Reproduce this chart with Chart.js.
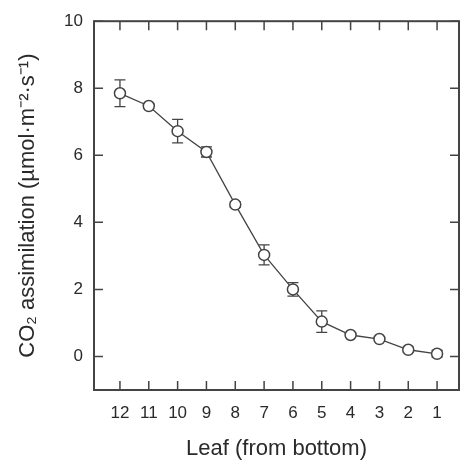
<!DOCTYPE html>
<html>
<head>
<meta charset="utf-8">
<script src="https://cdn.jsdelivr.net/npm/chart.js@4.4.1/dist/chart.umd.min.js"></script>
<style>
  html, body { margin:0; padding:0; background:#fff; }
  #wrap { width:461px; height:466px; }
</style>
</head>
<body>
<div id="wrap"><canvas id="c" width="461" height="466"></canvas></div>
<script>
const leaves = [12, 11, 10, 9, 8, 7, 6, 5, 4, 3, 2, 1];
const assim  = [7.85, 7.47, 6.72, 6.1, 4.53, 3.03, 2.0, 1.04, 0.64, 0.52, 0.2, 0.08];
const errs   = [0.4, 0.08, 0.35, 0.15, 0.08, 0.3, 0.2, 0.32, 0.06, 0.06, 0.08, 0.1];
const yTicks = [0, 2, 4, 6, 8, 10];

const ink = '#444';
const txt = '#2a2a2a';

const frameTicks = {
  id: 'frameTicks',
  afterDraw(chart){
    const {ctx, chartArea:a, scales:{x, y}} = chart;
    const len = 9;
    ctx.save();
    ctx.strokeStyle = ink;
    ctx.lineWidth = 2;
    ctx.strokeRect(a.left, a.top, a.right - a.left, a.bottom - a.top);
    ctx.lineWidth = 1.5;
    ctx.beginPath();
    x.ticks.forEach(t => {
      const px = x.getPixelForValue(t.value);
      ctx.moveTo(px, a.bottom); ctx.lineTo(px, a.bottom - len);
      ctx.moveTo(px, a.top);    ctx.lineTo(px, a.top + len);
    });
    y.ticks.forEach(t => {
      const py = y.getPixelForValue(t.value);
      ctx.moveTo(a.left, py);  ctx.lineTo(a.left + len, py);
      ctx.moveTo(a.right, py); ctx.lineTo(a.right - len, py);
    });
    ctx.stroke();
    ctx.restore();
  }
};

const errorBars = {
  id: 'errorBars',
  beforeDatasetsDraw(chart){
    const {ctx, scales:{x, y}} = chart;
    const cap = 5.5;
    ctx.save();
    ctx.strokeStyle = ink;
    ctx.lineWidth = 1.3;
    ctx.beginPath();
    leaves.forEach((l, i) => {
      const px = x.getPixelForValue(l);
      const hi = y.getPixelForValue(assim[i] + errs[i]);
      const lo = y.getPixelForValue(assim[i] - errs[i]);
      ctx.moveTo(px, hi); ctx.lineTo(px, lo);
      ctx.moveTo(px - cap, hi); ctx.lineTo(px + cap, hi);
      ctx.moveTo(px - cap, lo); ctx.lineTo(px + cap, lo);
    });
    ctx.stroke();
    ctx.restore();
  }
};

new Chart(document.getElementById('c'), {
  type: 'line',
  data: {
    datasets: [{
      data: leaves.map((l, i) => ({x: l, y: assim[i]})),
      borderColor: ink,
      borderWidth: 1.3,
      pointRadius: 5.5,
      pointBorderWidth: 1.5,
      pointBackgroundColor: '#fff',
      pointBorderColor: ink,
      tension: 0
    }]
  },
  options: {
    responsive: false,
    animation: false,
    layout: { autoPadding: false, padding: { top: 19, right: 2, left: 0, bottom: 0 } },
    plugins: { legend: { display: false }, tooltip: { enabled: false } },
    scales: {
      x: {
        type: 'linear', reverse: true, min: 0.24, max: 12.9,
        afterBuildTicks: s => { s.ticks = leaves.map(v => ({value: v})); },
        afterFit: s => { s.height = 76; s.paddingLeft = 0; s.paddingRight = 0; },
        grid: { display: false, drawTicks: false },
        border: { display: false },
        ticks: { color: txt, padding: 13, font: { family: 'Liberation Sans', size: 17 } },
        title: { display: true, text: 'Leaf (from bottom)', color: txt, padding: { top: 6 },
                 font: { family: 'Liberation Sans', size: 22 } }
      },
      y: {
        min: -1, max: 10,
        afterBuildTicks: s => { s.ticks = yTicks.map(v => ({value: v})); },
        afterFit: s => { s.width = 94; },
        grid: { display: false, drawTicks: false },
        border: { display: false },
        ticks: { color: txt, padding: 11, font: { family: 'Liberation Sans', size: 17 } },
        title: { display: true, text: 'CO\u2082 assimilation (\u00b5mol\u00b7m\u207b\u00b2\u00b7s\u207b\u00b9)', color: txt,
                 padding: { top: 15, bottom: 0 }, font: { family: 'Liberation Sans', size: 22 } }
      }
    }
  },
  plugins: [errorBars, frameTicks]
});
</script>
</body>
</html>
